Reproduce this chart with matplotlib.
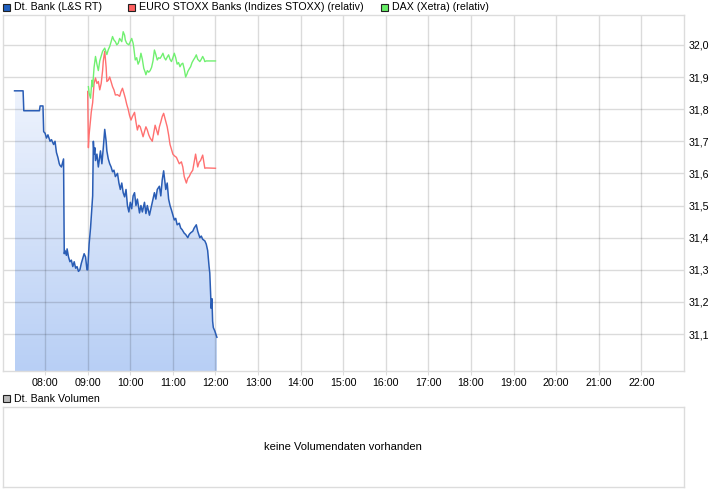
import numpy as np
import matplotlib
matplotlib.use("Agg")
import matplotlib.pyplot as plt
from matplotlib.colors import LinearSegmentedColormap
from matplotlib.patches import Rectangle

plt.rcParams['font.family'] = ['Liberation Sans', 'DejaVu Sans']

# Dt. Bank (L&S RT)
bank_times = [
    "07:17", "07:29", "07:30", "07:52", "07:53", "07:57", "07:58", "08:00", "08:02", "08:04",
    "08:07", "08:09", "08:12", "08:14", "08:16", "08:18", "08:20", "08:21", "08:23", "08:26",
    "08:27", "08:28", "08:30", "08:31", "08:33", "08:35", "08:37", "08:39", "08:41", "08:43",
    "08:45", "08:47", "08:49", "08:51", "08:53", "08:55", "08:57", "08:59", "09:00", "09:02",
    "09:04", "09:06", "09:07", "09:08", "09:09", "09:10", "09:11", "09:13", "09:15", "09:17",
    "09:18", "09:20", "09:22", "09:24", "09:26", "09:27", "09:29", "09:31", "09:33", "09:35",
    "09:37", "09:39", "09:42", "09:44", "09:46", "09:48", "09:50", "09:52", "09:54", "09:56",
    "09:58", "10:00", "10:02", "10:04", "10:06", "10:08", "10:10", "10:13", "10:15", "10:17",
    "10:20", "10:22", "10:24", "10:27", "10:29", "10:31", "10:34", "10:36", "10:38", "10:41",
    "10:43", "10:45", "10:47", "10:49", "10:50", "10:52", "10:54", "10:56", "10:58", "11:00",
    "11:02", "11:04", "11:06", "11:09", "11:11", "11:13", "11:16", "11:18", "11:21", "11:23",
    "11:25", "11:28", "11:30", "11:33", "11:35", "11:38", "11:40", "11:42", "11:45", "11:47",
    "11:49", "11:51", "11:52", "11:54", "11:55", "11:56", "11:57", "11:59", "12:02",
]
bank_prices = [
    31.857, 31.857, 31.795, 31.795, 31.81, 31.81, 31.73, 31.725, 31.71, 31.72,
    31.70, 31.705, 31.69, 31.70, 31.665, 31.65, 31.63, 31.625, 31.62, 31.645,
    31.35, 31.36, 31.345, 31.365, 31.34, 31.325, 31.33, 31.31, 31.325, 31.305,
    31.31, 31.295, 31.30, 31.32, 31.335, 31.35, 31.34, 31.30, 31.30, 31.38,
    31.43, 31.50, 31.53, 31.70, 31.66, 31.68, 31.64, 31.66, 31.62, 31.655,
    31.67, 31.63, 31.68, 31.737, 31.70, 31.67, 31.645, 31.63, 31.62, 31.605,
    31.61, 31.59, 31.60, 31.57, 31.55, 31.57, 31.54, 31.527, 31.55, 31.50,
    31.48, 31.51, 31.49, 31.53, 31.54, 31.50, 31.52, 31.477, 31.50, 31.48,
    31.51, 31.475, 31.50, 31.47, 31.49, 31.51, 31.54, 31.52, 31.55, 31.56,
    31.53, 31.58, 31.608, 31.57, 31.55, 31.57, 31.52, 31.50, 31.486, 31.47,
    31.455, 31.46, 31.44, 31.445, 31.43, 31.425, 31.414, 31.41, 31.40, 31.41,
    31.415, 31.42, 31.43, 31.44, 31.42, 31.40, 31.405, 31.395, 31.39, 31.38,
    31.36, 31.31, 31.29, 31.18, 31.21, 31.14, 31.12, 31.11, 31.09,
]

# EURO STOXX Banks (Indizes STOXX) (relativ)
stoxx_times = [
    "09:00", "09:01", "09:02", "09:04", "09:05", "09:07", "09:09", "09:11", "09:13", "09:15",
    "09:17", "09:19", "09:21", "09:22", "09:24", "09:26", "09:27", "09:29", "09:31", "09:33",
    "09:35", "09:37", "09:39", "09:42", "09:45", "09:47", "09:49", "09:51", "09:53", "09:55",
    "09:57", "09:59", "10:01", "10:03", "10:06", "10:08", "10:10", "10:12", "10:14", "10:16",
    "10:18", "10:20", "10:22", "10:24", "10:26", "10:28", "10:31", "10:33", "10:35", "10:37",
    "10:39", "10:41", "10:43", "10:45", "10:47", "10:49", "10:52", "10:54", "10:56", "10:58",
    "11:00", "11:02", "11:05", "11:07", "11:09", "11:12", "11:14", "11:16", "11:19", "11:21",
    "11:23", "11:25", "11:28", "11:30", "11:32", "11:35", "11:37", "11:39", "11:42", "11:45",
    "11:47", "12:00",
]
stoxx_values = [
    31.855, 31.68, 31.72, 31.766, 31.79, 31.82, 31.88, 31.897, 31.88, 31.886,
    31.86, 31.88, 31.92, 31.95, 31.98, 31.93, 31.886, 31.89, 31.90, 31.885,
    31.87, 31.86, 31.844, 31.845, 31.84, 31.855, 31.865, 31.85, 31.834, 31.815,
    31.80, 31.78, 31.766, 31.777, 31.79, 31.76, 31.735, 31.75, 31.745, 31.73,
    31.714, 31.73, 31.745, 31.735, 31.72, 31.71, 31.70, 31.725, 31.75, 31.735,
    31.72, 31.745, 31.76, 31.777, 31.787, 31.77, 31.745, 31.72, 31.69, 31.675,
    31.66, 31.655, 31.65, 31.64, 31.63, 31.636, 31.62, 31.59, 31.57, 31.585,
    31.59, 31.60, 31.61, 31.635, 31.66, 31.62, 31.635, 31.64, 31.657, 31.616,
    31.617, 31.616,
]

# DAX (Xetra) (relativ)
dax_times = [
    "09:01", "09:02", "09:04", "09:06", "09:07", "09:09", "09:11", "09:13", "09:15", "09:17",
    "09:19", "09:21", "09:24", "09:27", "09:29", "09:31", "09:33", "09:35", "09:37", "09:39",
    "09:41", "09:43", "09:45", "09:48", "09:50", "09:52", "09:53", "09:55", "09:58", "10:00",
    "10:02", "10:04", "10:05", "10:07", "10:09", "10:11", "10:13", "10:15", "10:17", "10:19",
    "10:21", "10:22", "10:24", "10:26", "10:28", "10:30", "10:32", "10:34", "10:36", "10:38",
    "10:40", "10:42", "10:44", "10:46", "10:48", "10:50", "10:52", "10:54", "10:56", "10:58",
    "11:00", "11:02", "11:04", "11:06", "11:08", "11:10", "11:12", "11:14", "11:16", "11:18",
    "11:20", "11:21", "11:23", "11:25", "11:27", "11:29", "11:31", "11:33", "11:35", "11:38",
    "11:40", "11:42", "11:44", "11:45", "11:47", "12:00",
]
dax_values = [
    31.87, 31.85, 31.834, 31.89, 31.87, 31.93, 31.964, 31.94, 31.92, 31.95,
    31.965, 31.98, 31.99, 31.97, 31.985, 31.995, 32.01, 32.026, 32.015, 32.01,
    32.0, 32.005, 32.02, 32.01, 32.041, 32.03, 32.015, 32.005, 32.0, 32.01,
    32.02, 32.005, 31.99, 31.953, 31.96, 31.94, 31.95, 31.974, 31.955, 31.927,
    31.915, 31.907, 31.92, 31.915, 31.92, 31.93, 31.95, 31.984, 31.97, 31.953,
    31.96, 31.958, 31.965, 31.974, 31.96, 31.953, 31.962, 31.969, 31.955, 31.948,
    31.96, 31.974, 31.96, 31.94, 31.945, 31.932, 31.94, 31.943, 31.925, 31.90,
    31.91, 31.917, 31.925, 31.932, 31.945, 31.953, 31.96, 31.969, 31.955, 31.948,
    31.955, 31.964, 31.955, 31.948, 31.95, 31.95,
]

hour_ticks = list(range(8, 23))
price_ticks = [31.1, 31.2, 31.3, 31.4, 31.5, 31.6, 31.7, 31.8, 31.9, 32.0]

legend_labels = ["Dt. Bank (L&S RT)", "EURO STOXX Banks (Indizes STOXX) (relativ)", "DAX (Xetra) (relativ)"]


def to_hours(times):
    return np.array([int(t[:2]) + int(t[3:]) / 60 for t in times])


W, H = 726, 496
GRID = "#dcdcdc"
BLUE = "#2a5db5"
RED = "#ff7070"
GREEN = "#70f070"

fig = plt.figure(figsize=(W / 100, H / 100), dpi=100)


def px_axes(left, top, right, bottom):
    return fig.add_axes([left / W, 1 - bottom / H, (right - left) / W, (bottom - top) / H])


ax = px_axes(2.5, 15, 684, 371)
ymin, ymax = 30.985, 32.093
ax.set_xlim(7, 23)
ax.set_ylim(ymin, ymax)

bx = to_hours(bank_times)
by = np.array(bank_prices)

# gradient fill under the Dt. Bank line (grid shows through on top of it)
cmap = LinearSegmentedColormap.from_list("fill", ["#b8cff5", "#eef3fd"])
grad = np.linspace(0, 1, 256).reshape(-1, 1)
img = ax.imshow(grad, cmap=cmap, aspect="auto", origin="lower",
                extent=[bx[0], bx[-1], ymin, by.max()], zorder=0.2)
poly = ax.fill_between(bx, by, ymin, color="none", lw=0)
clip = poly.get_paths()[0]
img.set_clip_path(clip, transform=ax.transData)

ax.plot(bx, by, color=BLUE, lw=1.1, zorder=4)
ax.plot(to_hours(stoxx_times), stoxx_values, color=RED, lw=1.0, zorder=3)
ax.plot(to_hours(dax_times), dax_values, color=GREEN, lw=1.0, zorder=3)

ax.set_xticks(hour_ticks)
ax.set_xticklabels([f"{h:02d}:00" for h in hour_ticks])
ax.set_yticks(price_ticks)
ax.set_yticklabels([f"{v:.1f}".replace(".", ",") for v in price_ticks])
ax.yaxis.tick_right()
ax.set_axisbelow(True)
ax.grid(True, color="black", alpha=0.14, lw=1.0)
ax.tick_params(axis="x", length=3, color=GRID, labelsize=7.7, pad=2, labelcolor="black")
ax.tick_params(axis="y", length=0, labelsize=7.7, pad=3, labelcolor="black")
for s in ax.spines.values():
    s.set_color(GRID)
    s.set_linewidth(1.0)

# legend row at the top
legend_colors = ["#1f5fbf", "#ff6060", "#66ee66"]
legend_x = [3, 128, 381]
for lx, col, lab in zip(legend_x, legend_colors, legend_labels):
    fig.patches.append(Rectangle((lx / W, 1 - 11 / H), 7 / W, 7 / H, transform=fig.transFigure,
                                 facecolor=col, edgecolor="#222222", lw=0.8))
    fig.text((lx + 11) / W, 1 - 7.5 / H, lab, fontsize=7.7, va="center", ha="left")

# volume panel
fig.patches.append(Rectangle((3 / W, 1 - 402 / H), 7 / W, 7 / H, transform=fig.transFigure,
                             facecolor="#bbbbbb", edgecolor="#222222", lw=0.8))
fig.text(14 / W, 1 - 398.5 / H, "Dt. Bank Volumen", fontsize=7.7, va="center", ha="left")

vax = px_axes(2.5, 407, 684, 487)
vax.set_xticks([])
vax.set_yticks([])
for s in vax.spines.values():
    s.set_color(GRID)
    s.set_linewidth(1.0)
vax.text(0.5, 0.5, "keine Volumendaten vorhanden", transform=vax.transAxes,
         ha="center", va="center", fontsize=8)

fig.savefig("out.png", dpi=100)
